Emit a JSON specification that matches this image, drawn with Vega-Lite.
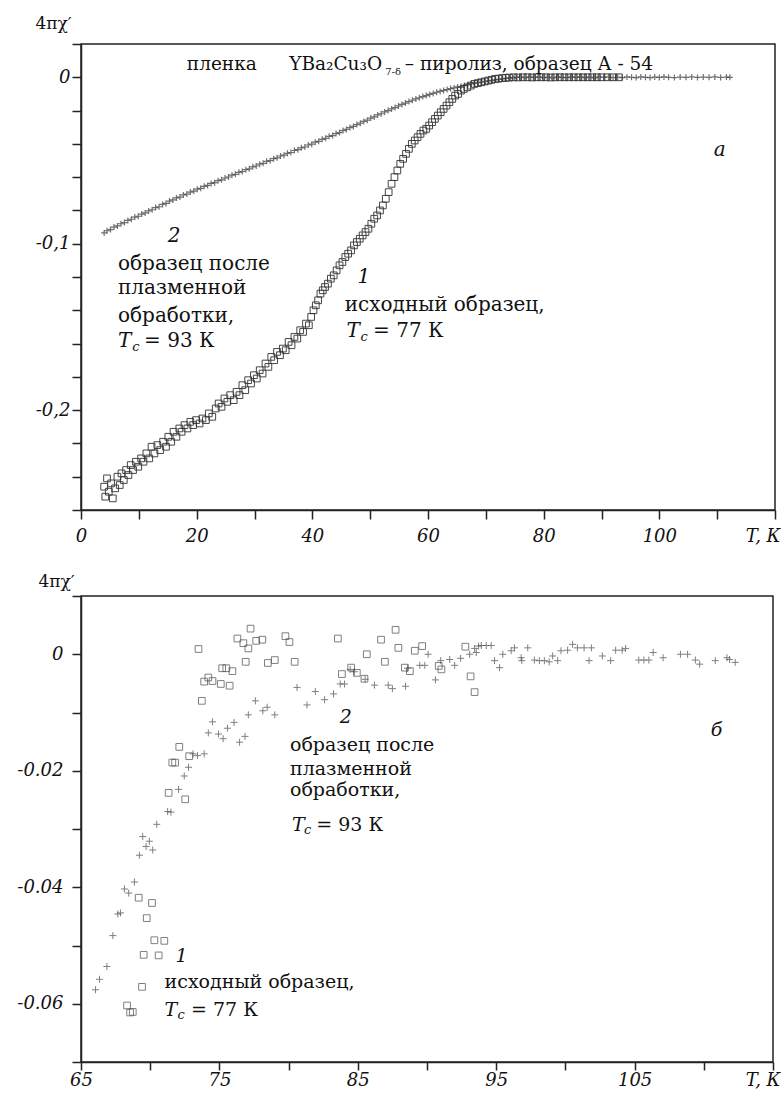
{
  "$schema": "https://vega.github.io/schema/vega-lite/v6.json",
  "background": "white",
  "padding": {"left": 16, "top": 13, "right": 0, "bottom": 0},
  "spacing": 25,
  "config": {
    "font": "DejaVu Serif",
    "view": {"stroke": "#222", "strokeWidth": 1.5},
    "axis": {
      "domainColor": "#222", "domainWidth": 1.5, "tickColor": "#222", "tickWidth": 1.5, "tickSize": 9,
      "grid": false, "labelFont": "DejaVu Serif", "labelFontStyle": "italic", "labelFontSize": 18,
      "labelColor": "#111", "labelOverlap": false, "labelFlush": false, "labelBound": false,
      "titleFont": "DejaVu Serif", "titleFontWeight": "normal", "titleFontSize": 17, "titleColor": "#111"
    },
    "text": {"font": "DejaVu Serif", "color": "#111"}
  },
  "datasets": {
    "top_sq": [
      {"T":4.0,"chi":-0.246},{"T":4.2,"chi":-0.252},{"T":4.5,"chi":-0.241},{"T":4.8,"chi":-0.249},{"T":5.2,"chi":-0.244},{"T":5.5,"chi":-0.253},{"T":5.9,"chi":-0.247},{"T":6.3,"chi":-0.240},{"T":6.7,"chi":-0.245},{"T":7.0,"chi":-0.238},{"T":7.4,"chi":-0.242},{"T":7.8,"chi":-0.236},{"T":8.2,"chi":-0.239},{"T":8.6,"chi":-0.233},{"T":9.0,"chi":-0.236},{"T":9.5,"chi":-0.231},{"T":9.9,"chi":-0.234},{"T":10.4,"chi":-0.229},{"T":10.8,"chi":-0.231},{"T":11.3,"chi":-0.226},{"T":11.8,"chi":-0.229},{"T":12.2,"chi":-0.222},{"T":12.7,"chi":-0.226},{"T":13.2,"chi":-0.221},{"T":13.7,"chi":-0.224},{"T":14.2,"chi":-0.219},{"T":14.7,"chi":-0.222},{"T":15.1,"chi":-0.216},{"T":15.6,"chi":-0.219},{"T":16.0,"chi":-0.213},{"T":16.5,"chi":-0.216},{"T":17.0,"chi":-0.211},{"T":17.4,"chi":-0.213},{"T":17.9,"chi":-0.209},{"T":18.4,"chi":-0.211},{"T":18.9,"chi":-0.207},{"T":19.4,"chi":-0.209},{"T":19.9,"chi":-0.206},{"T":20.5,"chi":-0.208},{"T":21.0,"chi":-0.205},{"T":21.6,"chi":-0.206},{"T":22.1,"chi":-0.202},{"T":22.7,"chi":-0.204},{"T":23.3,"chi":-0.199},{"T":23.8,"chi":-0.196},{"T":24.3,"chi":-0.198},{"T":24.8,"chi":-0.193},{"T":25.3,"chi":-0.195},{"T":25.8,"chi":-0.191},{"T":26.4,"chi":-0.194},{"T":26.9,"chi":-0.189},{"T":27.4,"chi":-0.191},{"T":27.9,"chi":-0.185},{"T":28.4,"chi":-0.188},{"T":28.9,"chi":-0.182},{"T":29.4,"chi":-0.184},{"T":29.9,"chi":-0.179},{"T":30.4,"chi":-0.181},{"T":30.9,"chi":-0.176},{"T":31.4,"chi":-0.178},{"T":31.9,"chi":-0.172},{"T":32.4,"chi":-0.174},{"T":32.9,"chi":-0.168},{"T":33.4,"chi":-0.170},{"T":33.9,"chi":-0.165},{"T":34.4,"chi":-0.167},{"T":34.9,"chi":-0.163},{"T":35.4,"chi":-0.164},{"T":35.9,"chi":-0.159},{"T":36.4,"chi":-0.161},{"T":36.9,"chi":-0.156},{"T":37.4,"chi":-0.157},{"T":37.9,"chi":-0.152},{"T":38.4,"chi":-0.153},{"T":38.9,"chi":-0.148},{"T":39.4,"chi":-0.149},{"T":39.8,"chi":-0.144},{"T":40.2,"chi":-0.140},{"T":40.6,"chi":-0.137},{"T":41.0,"chi":-0.134},{"T":41.4,"chi":-0.130},{"T":41.8,"chi":-0.128},{"T":42.2,"chi":-0.126},{"T":42.7,"chi":-0.124},{"T":43.2,"chi":-0.121},{"T":43.7,"chi":-0.119},{"T":44.2,"chi":-0.116},{"T":44.7,"chi":-0.113},{"T":45.2,"chi":-0.111},{"T":45.7,"chi":-0.108},{"T":46.2,"chi":-0.106},{"T":46.7,"chi":-0.104},{"T":47.2,"chi":-0.101},{"T":47.7,"chi":-0.099},{"T":48.2,"chi":-0.097},{"T":48.7,"chi":-0.095},{"T":49.2,"chi":-0.093},{"T":49.7,"chi":-0.091},{"T":50.2,"chi":-0.088},{"T":50.7,"chi":-0.085},{"T":51.2,"chi":-0.083},{"T":51.7,"chi":-0.080},{"T":52.2,"chi":-0.077},{"T":52.7,"chi":-0.073},{"T":53.2,"chi":-0.069},{"T":53.7,"chi":-0.064},{"T":54.2,"chi":-0.060},{"T":54.7,"chi":-0.056},{"T":55.2,"chi":-0.052},{"T":55.7,"chi":-0.049},{"T":56.2,"chi":-0.046},{"T":56.7,"chi":-0.043},{"T":57.2,"chi":-0.040},{"T":57.7,"chi":-0.038},{"T":58.2,"chi":-0.036},{"T":58.7,"chi":-0.034},{"T":59.2,"chi":-0.032},{"T":59.7,"chi":-0.031},{"T":60.2,"chi":-0.029},{"T":60.7,"chi":-0.027},{"T":61.2,"chi":-0.025},{"T":61.7,"chi":-0.023},{"T":62.2,"chi":-0.021},{"T":62.7,"chi":-0.019},{"T":63.2,"chi":-0.017},{"T":63.7,"chi":-0.015},{"T":64.2,"chi":-0.013},{"T":64.7,"chi":-0.011},{"T":65.2,"chi":-0.010},{"T":65.7,"chi":-0.008},{"T":66.2,"chi":-0.007},{"T":66.8,"chi":-0.006},{"T":67.4,"chi":-0.005},{"T":68.0,"chi":-0.004},{"T":68.6,"chi":-0.0035},{"T":69.2,"chi":-0.003},{"T":69.8,"chi":-0.0025},{"T":70.4,"chi":-0.002},{"T":71.0,"chi":-0.0015},{"T":71.6,"chi":-0.001},{"T":72.2,"chi":-0.0008},{"T":72.8,"chi":-0.0005},{"T":73.4,"chi":-0.0003},{"T":74.0,"chi":-0.0002},{"T":74.8,"chi":0},{"T":75.6,"chi":-0.0001},{"T":76.4,"chi":0},{"T":77.2,"chi":0},{"T":78.0,"chi":-0.0001},{"T":78.8,"chi":0},{"T":79.6,"chi":0},{"T":80.4,"chi":0},{"T":81.2,"chi":-0.0001},{"T":82.0,"chi":0},{"T":82.8,"chi":0},{"T":83.6,"chi":0},{"T":84.4,"chi":0},{"T":85.2,"chi":0},{"T":86.0,"chi":0},{"T":86.8,"chi":0},{"T":87.6,"chi":0},{"T":88.4,"chi":0},{"T":89.2,"chi":0},{"T":90.0,"chi":0},{"T":91.0,"chi":0},{"T":92.0,"chi":0},{"T":93.0,"chi":0}
    ],
    "top_cr": [
      {"T":4.0,"chi":-0.0935},{"T":4.5,"chi":-0.0922},{"T":5.1,"chi":-0.0915},{"T":5.7,"chi":-0.0900},{"T":6.3,"chi":-0.0893},{"T":6.9,"chi":-0.0880},{"T":7.5,"chi":-0.0873},{"T":8.1,"chi":-0.0860},{"T":8.7,"chi":-0.0853},{"T":9.3,"chi":-0.0840},{"T":9.9,"chi":-0.0835},{"T":10.5,"chi":-0.0822},{"T":11.1,"chi":-0.0815},{"T":11.7,"chi":-0.0803},{"T":12.3,"chi":-0.0796},{"T":12.9,"chi":-0.0783},{"T":13.5,"chi":-0.0778},{"T":14.1,"chi":-0.0764},{"T":14.7,"chi":-0.0758},{"T":15.3,"chi":-0.0744},{"T":15.9,"chi":-0.0737},{"T":16.5,"chi":-0.0725},{"T":17.1,"chi":-0.0720},{"T":17.7,"chi":-0.0707},{"T":18.3,"chi":-0.0702},{"T":18.9,"chi":-0.0690},{"T":19.5,"chi":-0.0684},{"T":20.1,"chi":-0.0672},{"T":20.7,"chi":-0.0667},{"T":21.3,"chi":-0.0655},{"T":21.9,"chi":-0.0650},{"T":22.5,"chi":-0.0638},{"T":23.1,"chi":-0.0633},{"T":23.7,"chi":-0.0621},{"T":24.3,"chi":-0.0616},{"T":24.9,"chi":-0.0605},{"T":25.5,"chi":-0.0599},{"T":26.1,"chi":-0.0588},{"T":26.7,"chi":-0.0583},{"T":27.3,"chi":-0.0571},{"T":27.9,"chi":-0.0566},{"T":28.5,"chi":-0.0555},{"T":29.1,"chi":-0.0550},{"T":29.7,"chi":-0.0538},{"T":30.3,"chi":-0.0533},{"T":30.9,"chi":-0.0522},{"T":31.5,"chi":-0.0517},{"T":32.1,"chi":-0.0505},{"T":32.7,"chi":-0.0501},{"T":33.3,"chi":-0.0489},{"T":33.9,"chi":-0.0484},{"T":34.5,"chi":-0.0473},{"T":35.1,"chi":-0.0468},{"T":35.7,"chi":-0.0457},{"T":36.3,"chi":-0.0452},{"T":36.9,"chi":-0.0440},{"T":37.5,"chi":-0.0435},{"T":38.1,"chi":-0.0424},{"T":38.7,"chi":-0.0419},{"T":39.3,"chi":-0.0407},{"T":39.9,"chi":-0.0402},{"T":40.5,"chi":-0.0390},{"T":41.1,"chi":-0.0385},{"T":41.7,"chi":-0.0373},{"T":42.3,"chi":-0.0367},{"T":42.9,"chi":-0.0355},{"T":43.5,"chi":-0.0350},{"T":44.1,"chi":-0.0338},{"T":44.7,"chi":-0.0332},{"T":45.3,"chi":-0.0320},{"T":45.9,"chi":-0.0313},{"T":46.5,"chi":-0.0302},{"T":47.1,"chi":-0.0295},{"T":47.7,"chi":-0.0284},{"T":48.3,"chi":-0.0276},{"T":48.9,"chi":-0.0265},{"T":49.5,"chi":-0.0258},{"T":50.1,"chi":-0.0245},{"T":50.7,"chi":-0.0238},{"T":51.3,"chi":-0.0226},{"T":51.9,"chi":-0.0219},{"T":52.5,"chi":-0.0208},{"T":53.1,"chi":-0.0200},{"T":53.7,"chi":-0.0190},{"T":54.3,"chi":-0.0182},{"T":54.9,"chi":-0.0172},{"T":55.5,"chi":-0.0163},{"T":56.1,"chi":-0.0155},{"T":56.7,"chi":-0.0146},{"T":57.3,"chi":-0.0138},{"T":57.9,"chi":-0.0130},{"T":58.5,"chi":-0.0123},{"T":59.1,"chi":-0.0116},{"T":59.7,"chi":-0.0110},{"T":60.3,"chi":-0.0103},{"T":60.9,"chi":-0.0097},{"T":61.5,"chi":-0.0090},{"T":62.1,"chi":-0.0085},{"T":62.7,"chi":-0.0079},{"T":63.3,"chi":-0.0074},{"T":63.9,"chi":-0.0068},{"T":64.5,"chi":-0.0064},{"T":65.1,"chi":-0.0058},{"T":65.7,"chi":-0.0054},{"T":66.3,"chi":-0.0049},{"T":66.9,"chi":-0.0045},{"T":67.5,"chi":-0.0040},{"T":68.1,"chi":-0.0037},{"T":68.7,"chi":-0.0032},{"T":69.3,"chi":-0.0029},{"T":69.9,"chi":-0.0025},{"T":70.5,"chi":-0.0022},{"T":71.1,"chi":-0.0018},{"T":71.7,"chi":-0.0015},{"T":72.3,"chi":-0.0012},{"T":72.9,"chi":-0.0009},{"T":73.5,"chi":-0.0007},{"T":74.1,"chi":-0.0004},{"T":74.7,"chi":-0.0003},{"T":75.3,"chi":-0.0001},{"T":76.0,"chi":0.0002},{"T":76.8,"chi":-0.0002},{"T":77.6,"chi":0.0003},{"T":78.4,"chi":-0.0001},{"T":79.2,"chi":0.0002},{"T":80.0,"chi":-0.0002},{"T":80.8,"chi":0.0001},{"T":81.6,"chi":-0.0003},{"T":82.4,"chi":0.0002},{"T":83.2,"chi":0.0},{"T":84.0,"chi":-0.0002},{"T":84.8,"chi":0.0003},{"T":85.6,"chi":-0.0001},{"T":86.4,"chi":0.0002},{"T":87.2,"chi":-0.0002},{"T":88.0,"chi":0.0001},{"T":88.8,"chi":-0.0003},{"T":89.6,"chi":0.0002},{"T":90.4,"chi":-0.0001},{"T":91.2,"chi":0.0002},{"T":92.0,"chi":-0.0002},{"T":92.8,"chi":0.0001},{"T":93.6,"chi":-0.0002},{"T":94.4,"chi":0.0002},{"T":95.2,"chi":0.0},{"T":96.0,"chi":-0.0002},{"T":96.8,"chi":0.0002},{"T":97.6,"chi":0.0},{"T":98.4,"chi":-0.0002},{"T":99.2,"chi":0.0001},{"T":100.0,"chi":-0.0001},{"T":100.8,"chi":0.0002},{"T":101.6,"chi":0.0},{"T":102.6,"chi":-0.0002},{"T":103.6,"chi":0.0001},{"T":104.6,"chi":0.0},{"T":105.6,"chi":0.0002},{"T":106.6,"chi":-0.0001},{"T":107.6,"chi":0.0001},{"T":108.6,"chi":0.0},{"T":109.6,"chi":0.0002},{"T":110.6,"chi":-0.0001},{"T":111.6,"chi":0.0001},{"T":112.2,"chi":0.0}
    ],
    "bot_sq": [
      {"T":73.49,"chi":0.0009},{"T":77.25,"chi":0.0044},{"T":76.30,"chi":0.0027},{"T":76.73,"chi":0.0019},{"T":77.09,"chi":0.0010},{"T":77.66,"chi":0.0023},{"T":78.10,"chi":0.0025},{"T":76.90,"chi":-0.0013},{"T":78.50,"chi":-0.0015},{"T":79.00,"chi":-0.0010},{"T":79.77,"chi":0.0031},{"T":80.06,"chi":0.0021},{"T":80.44,"chi":-0.0013},{"T":75.20,"chi":-0.0024},{"T":75.50,"chi":-0.0024},{"T":75.94,"chi":-0.0029},{"T":74.20,"chi":-0.0040},{"T":73.90,"chi":-0.0047},{"T":74.50,"chi":-0.0046},{"T":75.10,"chi":-0.0051},{"T":75.74,"chi":-0.0054},{"T":73.73,"chi":-0.0080},{"T":72.10,"chi":-0.0159},{"T":72.82,"chi":-0.0175},{"T":71.60,"chi":-0.0186},{"T":71.80,"chi":-0.0186},{"T":71.33,"chi":-0.0238},{"T":72.53,"chi":-0.0249},{"T":69.17,"chi":-0.0418},{"T":70.13,"chi":-0.0427},{"T":69.75,"chi":-0.0453},{"T":70.30,"chi":-0.0491},{"T":71.02,"chi":-0.0492},{"T":69.53,"chi":-0.0516},{"T":70.61,"chi":-0.0517},{"T":69.41,"chi":-0.0571},{"T":68.33,"chi":-0.0603},{"T":68.74,"chi":-0.0614},{"T":68.55,"chi":-0.0615},{"T":83.56,"chi":0.0027},{"T":85.65,"chi":0.0},{"T":86.68,"chi":0.0025},{"T":87.73,"chi":0.0042},{"T":87.93,"chi":0.0011},{"T":86.96,"chi":-0.0013},{"T":89.12,"chi":0.0006},{"T":89.65,"chi":0.0014},{"T":84.52,"chi":-0.0023},{"T":83.85,"chi":-0.0034},{"T":84.93,"chi":-0.0032},{"T":85.48,"chi":-0.0042},{"T":88.40,"chi":-0.0023},{"T":88.76,"chi":-0.0029},{"T":90.85,"chi":-0.0020},{"T":91.04,"chi":-0.0026},{"T":92.77,"chi":0.0013},{"T":93.15,"chi":-0.0038},{"T":93.44,"chi":-0.0065}
    ],
    "bot_cr": [
      {"T":72.46,"chi":-0.0209},{"T":72.05,"chi":-0.0232},{"T":71.26,"chi":-0.0270},{"T":71.50,"chi":-0.0271},{"T":70.47,"chi":-0.0292},{"T":69.46,"chi":-0.0313},{"T":69.94,"chi":-0.0321},{"T":69.70,"chi":-0.0330},{"T":70.18,"chi":-0.0336},{"T":69.22,"chi":-0.0345},{"T":68.86,"chi":-0.0391},{"T":68.14,"chi":-0.0403},{"T":68.45,"chi":-0.0410},{"T":67.66,"chi":-0.0446},{"T":67.85,"chi":-0.0444},{"T":67.30,"chi":-0.0483},{"T":66.87,"chi":-0.0536},{"T":66.34,"chi":-0.0558},{"T":66.05,"chi":-0.0576},{"T":77.60,"chi":-0.0080},{"T":77.09,"chi":-0.0104},{"T":78.14,"chi":-0.0097},{"T":78.45,"chi":-0.0091},{"T":79.00,"chi":-0.0104},{"T":74.50,"chi":-0.0116},{"T":76.06,"chi":-0.0117},{"T":75.58,"chi":-0.0127},{"T":74.20,"chi":-0.0135},{"T":74.93,"chi":-0.0137},{"T":75.27,"chi":-0.0145},{"T":76.85,"chi":-0.0141},{"T":76.46,"chi":-0.0151},{"T":73.90,"chi":-0.0171},{"T":73.42,"chi":-0.0174},{"T":73.10,"chi":-0.0171},{"T":72.77,"chi":-0.0194},{"T":80.61,"chi":-0.0057},{"T":81.33,"chi":-0.0087},{"T":81.93,"chi":-0.0064},{"T":82.60,"chi":-0.0078},{"T":83.25,"chi":-0.0068},{"T":83.73,"chi":-0.0051},{"T":84.04,"chi":-0.0051},{"T":84.45,"chi":-0.0026},{"T":84.76,"chi":-0.0030},{"T":85.53,"chi":-0.0043},{"T":86.20,"chi":-0.0053},{"T":87.20,"chi":-0.0053},{"T":87.50,"chi":-0.0059},{"T":88.45,"chi":-0.0055},{"T":88.60,"chi":-0.0024},{"T":89.48,"chi":-0.0019},{"T":89.84,"chi":-0.0019},{"T":90.08,"chi":0.0},{"T":90.61,"chi":-0.0044},{"T":90.99,"chi":-0.0011},{"T":91.64,"chi":-0.0009},{"T":92.00,"chi":-0.0019},{"T":92.43,"chi":-0.0007},{"T":93.08,"chi":0.0},{"T":93.44,"chi":0.0010},{"T":93.73,"chi":0.0014},{"T":93.56,"chi":0.0003},{"T":93.92,"chi":0.0015},{"T":94.28,"chi":0.0015},{"T":94.64,"chi":0.0015},{"T":94.88,"chi":-0.0011},{"T":95.24,"chi":-0.0023},{"T":95.48,"chi":0.0},{"T":96.08,"chi":0.0006},{"T":96.32,"chi":0.0011},{"T":96.80,"chi":-0.0006},{"T":96.85,"chi":-0.0011},{"T":97.28,"chi":0.0011},{"T":97.76,"chi":-0.0010},{"T":98.12,"chi":-0.0011},{"T":98.48,"chi":-0.0011},{"T":98.83,"chi":-0.0013},{"T":99.08,"chi":-0.0003},{"T":99.44,"chi":-0.0011},{"T":99.68,"chi":0.0006},{"T":100.16,"chi":0.0007},{"T":100.52,"chi":0.0017},{"T":100.87,"chi":0.0011},{"T":101.35,"chi":0.0011},{"T":101.71,"chi":-0.0011},{"T":101.88,"chi":0.0011},{"T":102.67,"chi":-0.0003},{"T":103.27,"chi":-0.0011},{"T":103.63,"chi":0.0007},{"T":104.10,"chi":0.0007},{"T":104.35,"chi":0.0010},{"T":105.30,"chi":-0.0010},{"T":105.67,"chi":-0.0010},{"T":106.03,"chi":-0.0010},{"T":106.34,"chi":0.0003},{"T":107.06,"chi":-0.0006},{"T":108.31,"chi":0.0},{"T":108.83,"chi":0.0},{"T":109.39,"chi":-0.0010},{"T":109.70,"chi":-0.0017},{"T":110.83,"chi":-0.0011},{"T":111.67,"chi":-0.0006},{"T":111.86,"chi":-0.0009},{"T":112.27,"chi":-0.0014}
    ],
    "top_header": [
      {"T":18.3,"chi":0.0042,"text":"пленка"},
      {"T":36.0,"chi":0.0042,"text":"YBa₂Cu₃O"},
      {"T":56.0,"chi":0.0042,"text":"– пиролиз, образец А - 54"}
    ],
    "top_roman": [
      {"T":6.4,"chi":-0.1156,"text":"образец после"},
      {"T":6.4,"chi":-0.1305,"text":"плазменной"},
      {"T":6.4,"chi":-0.1473,"text":"обработки,"},
      {"T":10.9,"chi":-0.1623,"text":"= 93 К"},
      {"T":45.6,"chi":-0.1407,"text":"исходный образец,"},
      {"T":50.5,"chi":-0.1563,"text":"= 77 К"}
    ],
    "top_italic": [
      {"T":15.0,"chi":-0.0988,"text":"2"},
      {"T":47.8,"chi":-0.1234,"text":"1"},
      {"T":109.4,"chi":-0.0473,"text":"а"},
      {"T":6.4,"chi":-0.1623,"text":"T"},
      {"T":45.9,"chi":-0.1563,"text":"T"}
    ],
    "top_sub": [
      {"T":8.87,"chi":-0.1643,"text":"c"},
      {"T":48.35,"chi":-0.1583,"text":"c"}
    ],
    "top_small": [
      {"T":52.6,"chi":0.0012,"text":"7-δ"}
    ],
    "bot_roman": [
      {"T":80.1,"chi":-0.0166,"text":"образец после"},
      {"T":80.1,"chi":-0.0207,"text":"плазменной"},
      {"T":80.1,"chi":-0.0243,"text":"обработки,"},
      {"T":82.0,"chi":-0.0303,"text":"= 93 К"},
      {"T":71.04,"chi":-0.0573,"text":"исходный образец,"},
      {"T":72.95,"chi":-0.0621,"text":"= 77 К"}
    ],
    "bot_italic": [
      {"T":83.7,"chi":-0.0118,"text":"2"},
      {"T":71.83,"chi":-0.0528,"text":"1"},
      {"T":110.5,"chi":-0.014,"text":"б"},
      {"T":80.25,"chi":-0.0303,"text":"T"},
      {"T":71.04,"chi":-0.0621,"text":"T"}
    ],
    "bot_sub": [
      {"T":81.12,"chi":-0.0309,"text":"c"},
      {"T":71.98,"chi":-0.0627,"text":"c"}
    ]
  },
  "vconcat": [
    {
      "width": 694,
      "height": 466,
      "layer": [
        {
          "mark": {"type": "rule", "color": "#222", "strokeWidth": 1.5},
          "encoding": {"y": {"datum": 0, "type": "quantitative"}}
        },
        {
          "data": {"name": "top_sq"},
          "mark": {"type": "point", "shape": "square", "filled": false, "stroke": "#333", "strokeWidth": 1, "size": 45, "opacity": 0.9},
          "encoding": {
            "x": {"field": "T", "type": "quantitative",
              "scale": {"domain": [0, 120], "nice": false, "zero": false},
              "axis": {"values": [0,10,20,30,40,50,60,70,80,90,100,110,120], "tickCount": 100,
                "labelExpr": "datum.value % 20 == 0 && datum.value < 120 ? toString(datum.value) : ''",
                "labelPadding": 8,
                "title": "T, К", "titleFontStyle": "italic", "titleFontSize": 18, "titleAlign": "right", "titleBaseline": "top", "titleX": 699, "titleY": 17}},
            "y": {"field": "chi", "type": "quantitative",
              "scale": {"domain": [-0.26, 0.02], "nice": false, "zero": false},
              "axis": {"values": [-0.26,-0.24,-0.22,-0.2,-0.18,-0.16,-0.14,-0.12,-0.1,-0.08,-0.06,-0.04,-0.02,0,0.02], "tickCount": 100,
                "labelExpr": "abs(datum.value) < 1e-9 ? '0' : abs(datum.value + 0.1) < 1e-9 ? '-0,1' : abs(datum.value + 0.2) < 1e-9 ? '-0,2' : ''",
                "labelPadding": 2,
                "title": "4πχ′", "titleAngle": 0, "titleAlign": "center", "titleBaseline": "alphabetic", "titleX": -28, "titleY": -16}}
          }
        },
        {
          "data": {"name": "top_cr"},
          "mark": {"type": "point", "shape": "M-1,0H1M0,-1V1", "filled": false, "stroke": "#333", "strokeWidth": 1.2, "size": 36},
          "encoding": {"x": {"field": "T", "type": "quantitative"}, "y": {"field": "chi", "type": "quantitative"}}
        },
        {
          "data": {"name": "top_header"},
          "mark": {"type": "text", "align": "left", "baseline": "alphabetic", "fontSize": 18.5},
          "encoding": {"x": {"field": "T", "type": "quantitative"}, "y": {"field": "chi", "type": "quantitative"}, "text": {"field": "text"}}
        },
        {
          "data": {"name": "top_roman"},
          "mark": {"type": "text", "align": "left", "baseline": "alphabetic", "fontSize": 20},
          "encoding": {"x": {"field": "T", "type": "quantitative"}, "y": {"field": "chi", "type": "quantitative"}, "text": {"field": "text"}}
        },
        {
          "data": {"name": "top_italic"},
          "mark": {"type": "text", "align": "left", "baseline": "alphabetic", "fontSize": 20, "fontStyle": "italic"},
          "encoding": {"x": {"field": "T", "type": "quantitative"}, "y": {"field": "chi", "type": "quantitative"}, "text": {"field": "text"}}
        },
        {
          "data": {"name": "top_sub"},
          "mark": {"type": "text", "align": "left", "baseline": "alphabetic", "fontSize": 13, "fontStyle": "italic"},
          "encoding": {"x": {"field": "T", "type": "quantitative"}, "y": {"field": "chi", "type": "quantitative"}, "text": {"field": "text"}}
        },
        {
          "data": {"name": "top_small"},
          "mark": {"type": "text", "align": "left", "baseline": "alphabetic", "fontSize": 10},
          "encoding": {"x": {"field": "T", "type": "quantitative"}, "y": {"field": "chi", "type": "quantitative"}, "text": {"field": "text"}}
        }
      ]
    },
    {
      "width": 692,
      "height": 466,
      "layer": [
        {
          "mark": {"type": "rule", "color": "#222", "strokeWidth": 1.5},
          "encoding": {"y": {"datum": 0, "type": "quantitative"}}
        },
        {
          "data": {"name": "bot_sq"},
          "mark": {"type": "point", "shape": "square", "filled": false, "stroke": "#4a4a4a", "strokeWidth": 1, "size": 45},
          "encoding": {
            "x": {"field": "T", "type": "quantitative",
              "scale": {"domain": [65, 115], "nice": false, "zero": false},
              "axis": {"values": [65,70,75,80,85,90,95,100,105,110,115], "tickCount": 100, "tickSize": 8,
                "labelExpr": "(datum.value - 65) % 10 == 0 && datum.value < 115 ? toString(datum.value) : ''",
                "labelPadding": 1,
                "title": "T, К", "titleFontStyle": "italic", "titleFontSize": 18, "titleAlign": "right", "titleBaseline": "top", "titleX": 699, "titleY": 9}},
            "y": {"field": "chi", "type": "quantitative",
              "scale": {"domain": [-0.07, 0.01], "nice": false, "zero": false},
              "axis": {"values": [-0.07,-0.06,-0.05,-0.04,-0.03,-0.02,-0.01,0,0.01], "tickCount": 100,
                "labelExpr": "abs(datum.value) < 1e-9 ? '0' : abs(datum.value + 0.02) < 1e-9 ? '-0.02' : abs(datum.value + 0.04) < 1e-9 ? '-0.04' : abs(datum.value + 0.06) < 1e-9 ? '-0.06' : ''",
                "labelPadding": 9,
                "title": "4πχ′", "titleAngle": 0, "titleAlign": "center", "titleBaseline": "alphabetic", "titleX": -25, "titleY": -10}}
          }
        },
        {
          "data": {"name": "bot_cr"},
          "mark": {"type": "point", "shape": "M-1,0H1M0,-1V1", "filled": false, "stroke": "#4a4a4a", "strokeWidth": 1, "size": 49},
          "encoding": {"x": {"field": "T", "type": "quantitative"}, "y": {"field": "chi", "type": "quantitative"}}
        },
        {
          "data": {"name": "bot_roman"},
          "mark": {"type": "text", "align": "left", "baseline": "alphabetic", "fontSize": 19},
          "encoding": {"x": {"field": "T", "type": "quantitative"}, "y": {"field": "chi", "type": "quantitative"}, "text": {"field": "text"}}
        },
        {
          "data": {"name": "bot_italic"},
          "mark": {"type": "text", "align": "left", "baseline": "alphabetic", "fontSize": 19, "fontStyle": "italic"},
          "encoding": {"x": {"field": "T", "type": "quantitative"}, "y": {"field": "chi", "type": "quantitative"}, "text": {"field": "text"}}
        },
        {
          "data": {"name": "bot_sub"},
          "mark": {"type": "text", "align": "left", "baseline": "alphabetic", "fontSize": 13, "fontStyle": "italic"},
          "encoding": {"x": {"field": "T", "type": "quantitative"}, "y": {"field": "chi", "type": "quantitative"}, "text": {"field": "text"}}
        }
      ]
    }
  ]
}
